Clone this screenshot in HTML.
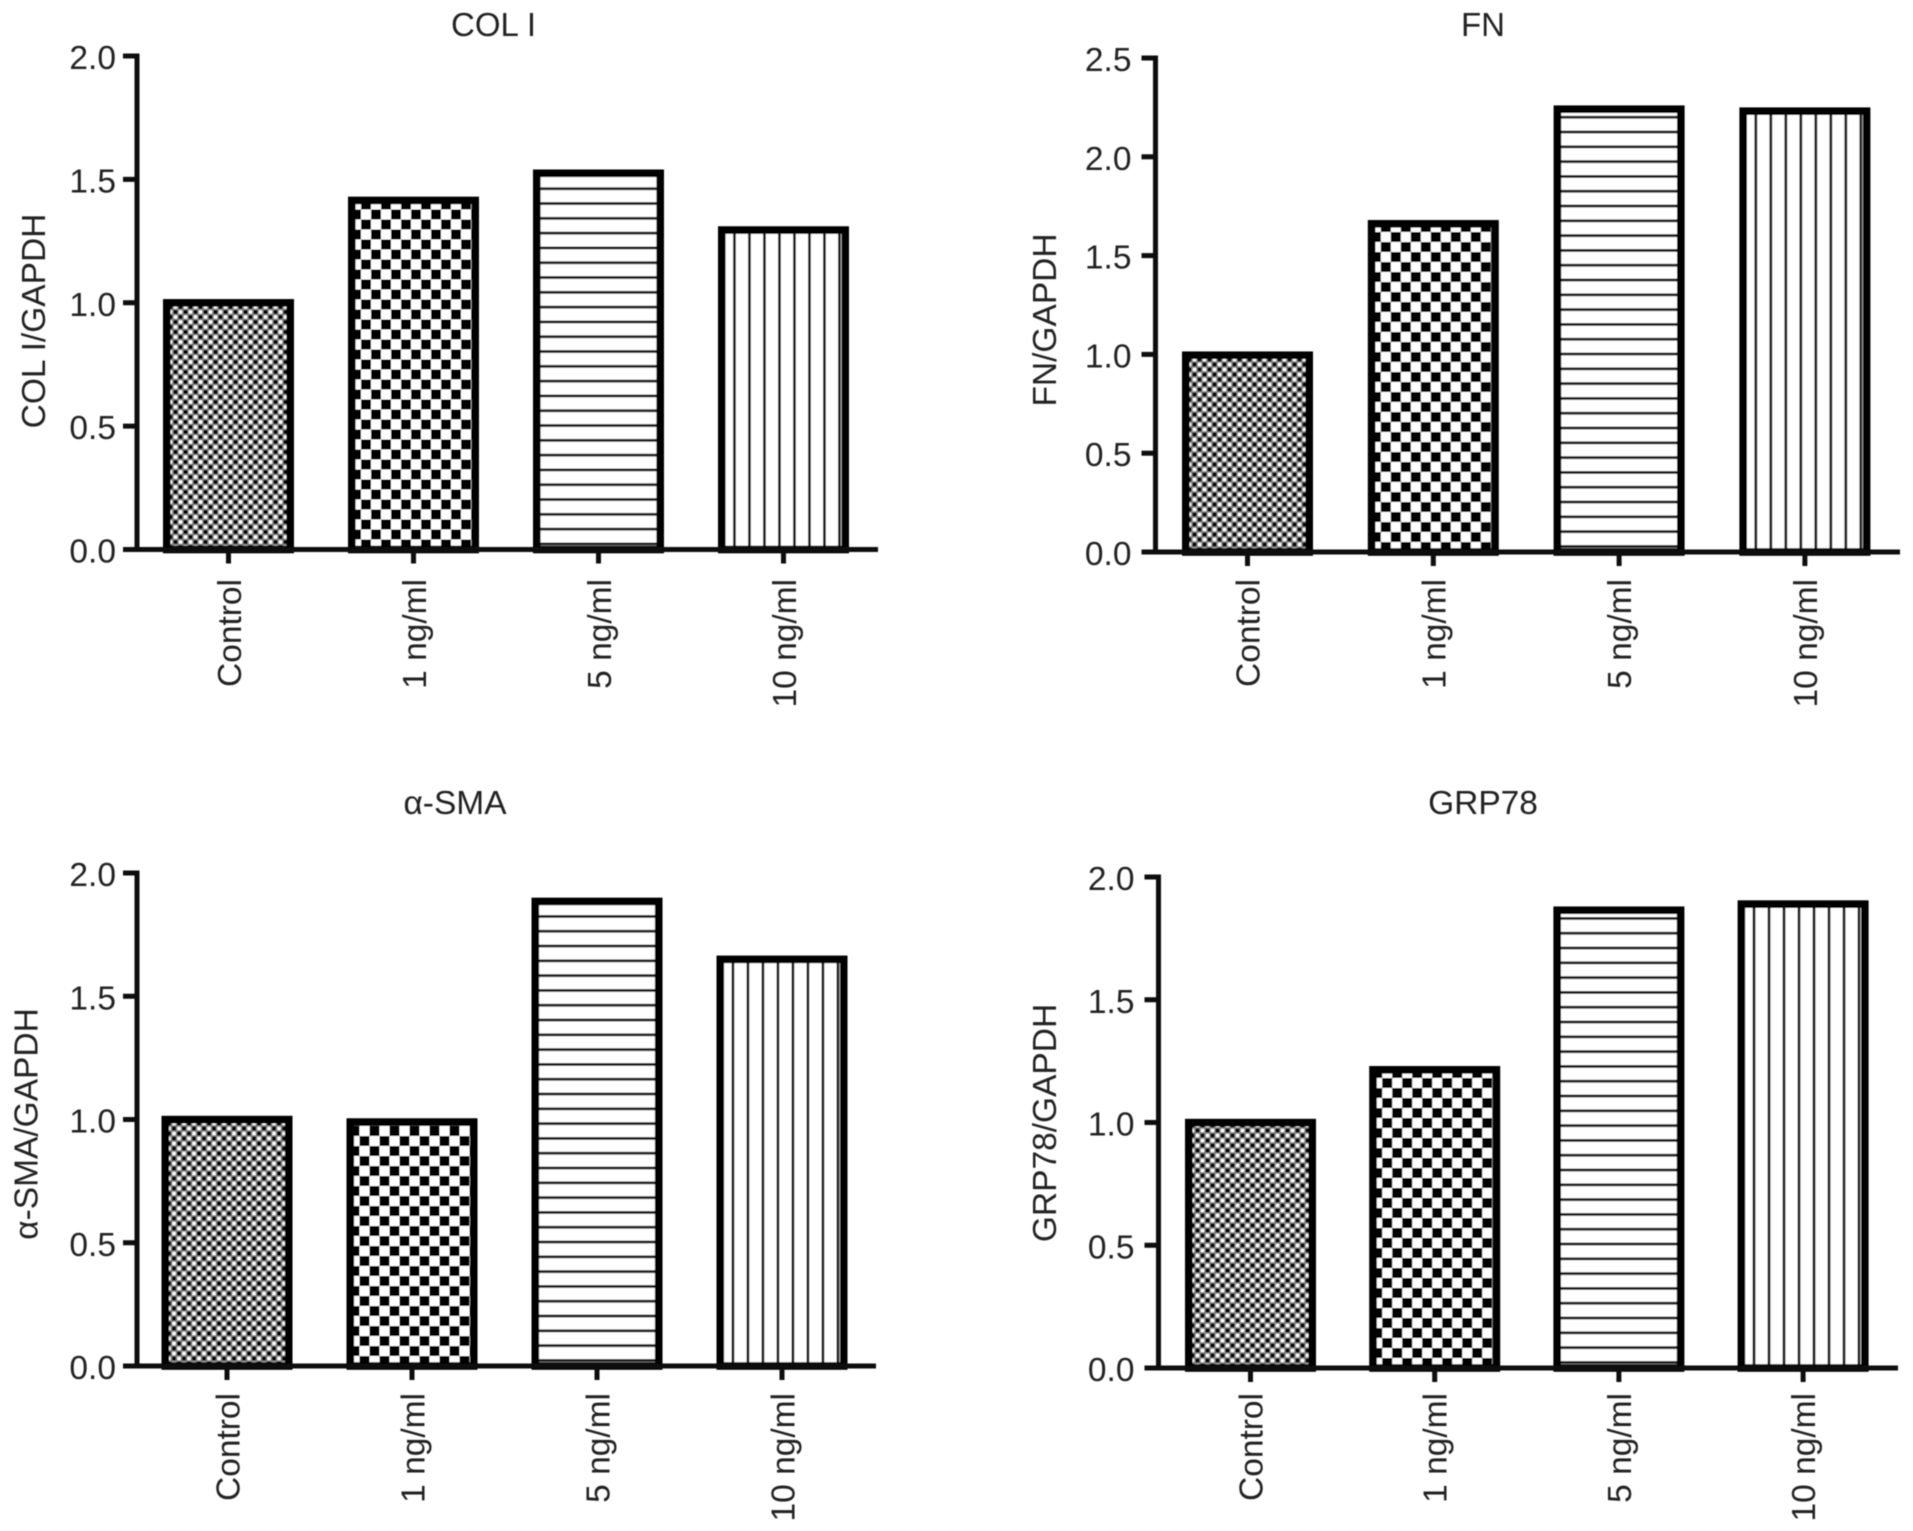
<!DOCTYPE html>
<html lang="en">
<head>
<meta charset="utf-8">
<title>COL I, FN, α-SMA and GRP78 expression</title>
<style>
html,body{margin:0;padding:0;background:#fff;width:1913px;height:1531px;overflow:hidden}
svg{display:block}
text{font-family:"Liberation Sans",sans-serif;fill:#222;font-size:33.5px}
</style>
</head>
<body>
<svg id="figure" xmlns="http://www.w3.org/2000/svg" width="1913" height="1531" viewBox="0 0 1913 1531">
  <defs id="defs">
    <filter id="soft" x="0" y="0" width="100%" height="100%" filterUnits="userSpaceOnUse" primitiveUnits="userSpaceOnUse">
      <feGaussianBlur stdDeviation="0.65"/>
    </filter>
  </defs>
  <rect width="1913" height="1531" fill="#fff"/>
  <g id="root" filter="url(#soft)">
    <g id="panel-col1">
      <text x="493.5" y="36" text-anchor="middle" style="font-size:33px">COL I</text>
      <text transform="translate(45,321) rotate(-90)" text-anchor="middle">COL I/GAPDH</text>
    </g>
    <g id="panel-fn">
      <text x="1483" y="36" text-anchor="middle" style="font-size:33px">FN</text>
      <text transform="translate(1056,320) rotate(-90)" text-anchor="middle">FN/GAPDH</text>
    </g>
    <g id="panel-sma">
      <text x="455" y="814" text-anchor="middle">α-SMA</text>
      <text transform="translate(37.5,1124) rotate(-90)" text-anchor="middle">α-SMA/GAPDH</text>
    </g>
    <g id="panel-grp">
      <text x="1483" y="814" text-anchor="middle">GRP78</text>
      <text transform="translate(1056,1123) rotate(-90)" text-anchor="middle">GRP78/GAPDH</text>
    </g>
  </g>
</svg>
<script>
const categories = ['Control', '1 ng/ml', '5 ng/ml', '10 ng/ml'];
const colIValues = [1.015, 1.43, 1.54, 1.31];
const fnValues = [1.015, 1.68, 2.26, 2.25];
const smaValues = [1.015, 1.005, 1.90, 1.665];
const grpValues = [1.015, 1.23, 1.88, 1.905];
const ticksTo2 = ['0.0', '0.5', '1.0', '1.5', '2.0'];
const ticksTo25 = ['0.0', '0.5', '1.0', '1.5', '2.0', '2.5'];

const NS = 'http://www.w3.org/2000/svg';
const BAR_WIDTH = 131, BAR_STROKE = 7.6, AXIS_STROKE = 5, INK = '#0a0a0a';

const panels = [
  { id: 'panel-col1', values: colIValues, ticks: ticksTo2, axisX: 137, yZero: 549.5, yTop: 56, xEnd: 878, firstX: 228.5, pitch: 185, labelTop: 579, labelGap: 21, labelShift: 12.5 },
  { id: 'panel-fn', values: fnValues, ticks: ticksTo25, axisX: 1155.5, yZero: 552, yTop: 58, xEnd: 1900, firstX: 1247.5, pitch: 185.8, labelTop: 579, labelGap: 24, labelShift: 12 },
  { id: 'panel-sma', values: smaValues, ticks: ticksTo2, axisX: 137, yZero: 1366, yTop: 873, xEnd: 876, firstX: 227, pitch: 185, labelTop: 1393, labelGap: 21, labelShift: 12.5 },
  { id: 'panel-grp', values: grpValues, ticks: ticksTo2, axisX: 1158.5, yZero: 1368, yTop: 877, xEnd: 1898, firstX: 1250.5, pitch: 184.2, labelTop: 1393, labelGap: 24, labelShift: 12 }
];

function make(tag, attrs, parent) {
  const el = document.createElementNS(NS, tag);
  for (const k in attrs) el.setAttribute(k, attrs[k]);
  parent.appendChild(el);
  return el;
}

const defs = document.getElementById('defs');

function buildPattern(kind, id, barLeft, yZero) {
  const p = make('pattern', { id: id, patternUnits: 'userSpaceOnUse' }, defs);
  if (kind === 0) {
    p.setAttribute('width', 10);
    p.setAttribute('height', 10);
    p.setAttribute('patternTransform', 'translate(' + barLeft + ',' + yZero + ')');
    make('rect', { width: 10, height: 10, fill: '#808080' }, p);
    make('rect', { x: 0.6, y: 0.6, width: 3.8, height: 3.8, fill: '#000' }, p);
    make('rect', { x: 5.6, y: 5.6, width: 3.8, height: 3.8, fill: '#000' }, p);
    make('rect', { x: 5.8, y: 0.8, width: 3.4, height: 3.4, fill: '#fff' }, p);
    make('rect', { x: 0.8, y: 5.8, width: 3.4, height: 3.4, fill: '#fff' }, p);
  } else if (kind === 1) {
    p.setAttribute('width', 20);
    p.setAttribute('height', 20);
    p.setAttribute('patternTransform', 'translate(' + (barLeft + 3) + ',' + yZero + ')');
    make('rect', { width: 20, height: 20, fill: '#fff' }, p);
    make('rect', { width: 10, height: 10, fill: '#000' }, p);
    make('rect', { x: 10, y: 10, width: 10, height: 10, fill: '#000' }, p);
  } else if (kind === 2) {
    p.setAttribute('width', 10);
    p.setAttribute('height', 14.8);
    p.setAttribute('patternTransform', 'translate(' + barLeft + ',' + (yZero - 7) + ')');
    make('rect', { width: 10, height: 14.8, fill: '#fff' }, p);
    make('rect', { y: 0, width: 10, height: 2.8, fill: '#1c1c1c' }, p);
  } else {
    p.setAttribute('width', 15);
    p.setAttribute('height', 10);
    p.setAttribute('patternTransform', 'translate(' + (barLeft + 15) + ',' + yZero + ')');
    make('rect', { width: 15, height: 10, fill: '#fff' }, p);
    make('rect', { x: 0, width: 2.8, height: 10, fill: '#1c1c1c' }, p);
  }
}

panels.forEach(function (cfg, pi) {
  const g = document.getElementById(cfg.id);
  const tickMax = parseFloat(cfg.ticks[cfg.ticks.length - 1]);
  const yScale = function (v) { return cfg.yZero - (v / tickMax) * (cfg.yZero - cfg.yTop); };
  const xScale = function (i) { return cfg.firstX + i * cfg.pitch; };

  // bars
  cfg.values.forEach(function (v, i) {
    const left = xScale(i) - BAR_WIDTH / 2;
    const top = yScale(v);
    const pid = 'fill-' + pi + '-' + i;
    buildPattern(i, pid, left, cfg.yZero);
    const bar = make('rect', {
      x: left + BAR_STROKE / 2,
      y: top + BAR_STROKE / 2,
      width: BAR_WIDTH - BAR_STROKE,
      height: cfg.yZero - top - BAR_STROKE / 2,
      fill: 'url(#' + pid + ')',
      stroke: '#000',
      'stroke-width': BAR_STROKE
    }, g);
    
    
  });

  // y axis
  const yAxis = make('line', { x1: cfg.axisX, x2: cfg.axisX, y1: cfg.yTop - AXIS_STROKE / 2, y2: cfg.yZero, stroke: INK, 'stroke-width': AXIS_STROKE }, g);
  
  

  // y ticks and labels
  cfg.ticks.forEach(function (t) {
    const y = yScale(parseFloat(t));
    const tick = make('line', { x1: cfg.axisX - 14, x2: cfg.axisX, y1: y, y2: y, stroke: INK, 'stroke-width': AXIS_STROKE }, g);
    
    
    const label = make('text', { x: cfg.axisX - cfg.labelGap, y: y + 13, 'text-anchor': 'end' }, g);
    label.textContent = t;
    
    
  });

  // x axis
  const xAxis = make('line', { x1: cfg.axisX - 14, x2: cfg.xEnd, y1: cfg.yZero, y2: cfg.yZero, stroke: INK, 'stroke-width': AXIS_STROKE }, g);
  
  

  // x ticks and labels
  categories.forEach(function (c, i) {
    const x = xScale(i);
    const tick = make('line', { x1: x, x2: x, y1: cfg.yZero, y2: cfg.yZero + 14, stroke: INK, 'stroke-width': AXIS_STROKE }, g);
    
    
    const label = make('text', { transform: 'translate(' + (x + cfg.labelShift) + ',' + cfg.labelTop + ') rotate(-90)', 'text-anchor': 'end' }, g);
    label.textContent = c;
    
    
  });
});
</script>
</body>
</html>
